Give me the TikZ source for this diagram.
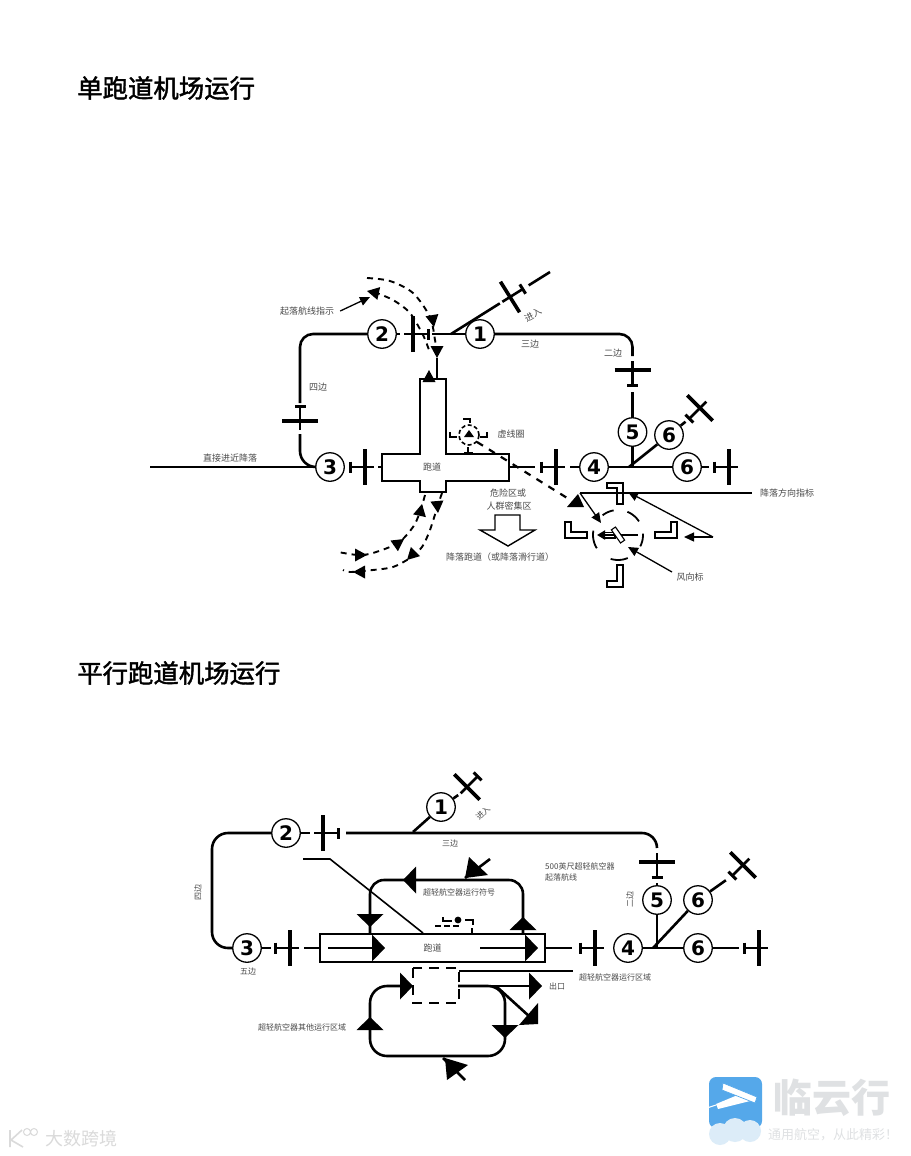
\documentclass[tikz,border=0pt]{standalone}
\usepackage{fontspec}
\usepackage{xcolor}
\setmainfont{Noto Sans CJK SC}
\newfontfamily\numfont{DejaVu Sans}
\newfontfamily\titlefont[FakeBold=1.6]{Noto Sans CJK SC}
\usetikzlibrary{arrows.meta,calc,positioning}
\definecolor{labeltext}{HTML}{4A4A4A}
\definecolor{logoblue}{HTML}{55A8EA}
\definecolor{logocloud}{HTML}{DCECF8}
\definecolor{logotext}{HTML}{DFE1E3}
\definecolor{marktext}{HTML}{DADADA}
\tikzset{
 numcirc/.style={circle,draw=black,fill=white,line width=1.3pt,minimum size=28.5pt,inner sep=0pt,
  font=\numfont\bfseries\fontsize{20}{20}\selectfont},
 route/.style={line width=2.6pt,line cap=butt},
 dashroute/.style={line width=1.9pt,dash pattern=on 6pt off 5pt},
 thinarrow/.style={line width=1.3pt,-{Triangle[length=10pt,width=9pt]}},
 txt/.style={font=\fontsize{9}{11}\selectfont,text=labeltext,inner sep=0pt},
 txts/.style={font=\fontsize{8}{10}\selectfont,text=labeltext,inner sep=0pt},
 titletxt/.style={font=\titlefont\fontsize{25.4}{28}\selectfont,anchor=west,inner sep=0pt},
 lmark/.style={draw=black,fill=white,line width=1.1pt},
 airplane/.pic={
  \coordinate (-nose) at (9,0);
  \coordinate (-tail) at (-15,0);
  \draw[line width=2.6pt] (-15,0)--(9,0);
  \draw[line width=3.6pt] (0,-18)--(0,18);
  \draw[line width=3pt] (-15,-5.5)--(-15,5.5);
 },
 bighead/.pic={\fill (0,0)--(-13,-13.5)--(-13,13.5)--cycle;},
 smallhead/.pic={\fill (0,0)--(-12,-6.5)--(-12,6.5)--cycle;},
}
\begin{document}
\begin{tikzpicture}[x=1pt,y=-1pt]
\useasboundingbox (0,0) rectangle (910,1156);
\fill[white] (0,0) rectangle (910,1156);

% ── Titles ──────────────────────────────────────────────────────
\node[titletxt] (titletop) at (77,88) {单跑道机场运行};
\node[titletxt] (titlebot) at (77,673) {平行跑道机场运行};

% ── (A) Single runway: numbered stops and planes ────────────────
\node[numcirc] (t1) at (480,334) {1};
\node[numcirc] (t2) at (382,334) {2};
\node[numcirc] (t3) at (330,467) {3};
\node[numcirc] (t4) at (594,467) {4};
\node[numcirc] (t5) at (632.5,432) {5};
\node[numcirc] (t6a) at (669,435) {6};
\node[numcirc] (t6b) at (687,467) {6};
\pic[rotate=212] (tpa) at (510,297) {airplane};
\pic[rotate=180] (tpb) at (413,334) {airplane};
\pic[rotate=-90] (tpc) at (300,421) {airplane};
\pic (tpd) at (365,467) {airplane};
\pic (tpe) at (556,467) {airplane};
\pic[rotate=90] (tpf) at (632.5,370) {airplane};
\pic[rotate=45] (tpg) at (700,408) {airplane};
\pic (tph) at (729,467) {airplane};
\coordinate (tjoin1) at (451,334);
\coordinate (tjoin2) at (629,467);
\coordinate (tjoin3) at (632.5,467);
\coordinate (tstart) at (150,467);
\coordinate (tfree) at (550,272);
\coordinate (trwW) at (382,467);
\coordinate (trwE) at (509,467);

% Runway cross
\draw[line width=1.4pt,fill=white] (382,454)--(420,454)--(420,379)--(446,379)--(446,454)--(509,454)
 --(509,481)--(446,481)--(446,492)--(420,492)--(420,481)--(382,481)--cycle;
\node[txt] (trwlabel) at (432,467) {跑道};

% Circuit legs
\draw[route] (tstart)--(t3);
\draw[route,rounded corners=13pt,shorten >=3pt] (t2) -| (tpc-tail);
\draw[route,rounded corners=16pt,shorten <=4pt] (tpc-nose) |- (t3);
\draw[route,shorten >=4pt] (t2)--(tpb-nose);
\draw[route,shorten <=4pt] (tpb-tail)--(t1);
\draw[route,rounded corners=13pt,shorten >=5pt] (t1) -| (tpf-nose);
\draw[route,shorten <=7pt] (tpf-tail)--(t5);
\draw[route,shorten >=3pt] (tjoin1)--(tpa-nose);
\draw[route,shorten <=7pt] (tpa-tail)--(tfree);
\draw[route,shorten <=4pt] (tpd-nose)--(trwW);
\draw[route,shorten >=6pt] (trwE)--(tpe-tail);
\draw[route,shorten <=5pt] (tpe-nose)--(t4);
\draw[route] (t4)--(t6b);
\draw[route] (t5)--(tjoin3);
\draw[route] (tjoin2)--(t6a);
\draw[route,shorten >=5pt] (t6a)--(tpg-tail);
\draw[route,shorten >=5pt] (t6b)--(tph-tail);

% Dashed pattern above the runway
\draw[dashroute] plot[smooth] coordinates {(367,278) (390,281) (413,293) (430,317) (435,340) (437,352)};
\draw[dashroute] plot[smooth] coordinates {(374,292) (393,300) (410,313) (423,335) (429,350)};
\draw[route] (437,358)--(437,379);
\pic[rotate=168] at (367,291) {smallhead};
\pic[rotate=-80] at (434,327) {smallhead};
\pic[rotate=-90] at (437,358) {smallhead};
\pic[rotate=90] at (429,370) {smallhead};
% Dashed pattern below the runway
\draw[dashroute] plot[smooth] coordinates {(425,495) (420,512) (413,527) (398,543) (373,553) (358,555) (338,552)};
\draw[dashroute] plot[smooth] coordinates {(442,493) (437,508) (430,530) (422,547) (410,558) (393,567) (373,570) (350,572) (343,570)};
\pic[rotate=78] at (422,504) {smallhead};
\pic[rotate=-85] at (438,513) {smallhead};
\pic[rotate=35] at (404,539) {smallhead};
\pic at (367,555) {smallhead};
\pic[rotate=-135] at (407,560) {smallhead};
\pic[rotate=180] at (353,572) {smallhead};

% Small dashed circle and its marks
\draw[line width=1.6pt,dash pattern=on 4pt off 2.5pt] (469,435) circle[radius=10];
\fill (469,430)--(464,437)--(474,437)--cycle;
\draw[line width=2pt] (463,419)--(470,419)--(470,423);
\draw[line width=2pt] (450,432)--(450,437)--(457,437);
\draw[line width=2pt] (487,432)--(487,437)--(480,437);
\draw[line width=2pt] (464,453)--(473,453) (468,447)--(468,454);

% Dashed approach to the wind circle
\draw[line width=2.2pt,dash pattern=on 7pt off 7pt] (477,442)--(572,501);
\fill (578,494)--(584,507)--(567,507)--cycle;

% Landing direction marks
\draw[lmark] (607,483)--(623,483)--(623,504)--(617,504)--(617,488)--(607,488)--cycle;
\draw[lmark] (565,522)--(571,522)--(571,532)--(587,532)--(587,538)--(565,538)--cycle;
\draw[lmark] (677,522)--(671,522)--(671,532)--(655,532)--(655,538)--(677,538)--cycle;
\draw[lmark] (617,565)--(623,565)--(623,587)--(607,587)--(607,581)--(617,581)--cycle;
\foreach \s/\e in {100/128,33/68,-27/3,-107/-67,170/212}
 \draw[line width=1.8pt] plot[smooth,domain=\s:\e,samples=9] ({618+25*cos(\x)},{535-25*sin(\x)});
\draw[lmark] (604,532.5) rectangle (615,538);
\draw[line width=1.8pt,-{Triangle[length=8pt,width=9pt]}] (638,535)--(597,535);
\node[draw=black,fill=white,line width=1.1pt,rotate=-55,minimum width=16pt,minimum height=5pt,inner sep=0pt] (twsock) at (618,535) {};

% Labels with pointers
\node[txt] (tlbdir) at (787,493) {降落方向指标};
\node[txt] (tlbwind) at (690,577) {风向标};
\node[txt] (tlbpat) at (307,311) {起落航线指示};
\coordinate (tc1) at (580,493);
\coordinate (tc2) at (713,537);
\draw[line width=1.3pt] ($(tlbdir.west)+(-8,0)$)--(tc1);
\draw[thinarrow] (tc1)--(601,523);
\draw[thinarrow] (tc2)--(628,492);
\draw[thinarrow] (tc2)--(684,537);
\draw[thinarrow] (672,572)--(628,547);
\draw[thinarrow] ($(tlbpat.east)+(6,0)$)--(370,297);

% Hazard area and hollow arrow
\node[txt] (thaz1) at (508,493) {危险区或};
\node[txt] (thaz2) at (509,506) {人群密集区};
\draw[line width=1.4pt] (495,515)--(520,515)--(520,530)--(535,530)--(508,546)--(480,530)--(495,530)--cycle;
\node[txt] (tland) at (500,557) {降落跑道（或降落滑行道）};
\node[txt] (tstr) at (230,458) {直接进近降落};
\node[txt] (tleg4) at (318,387) {四边};
\node[txt] (tleg3) at (530,344) {三边};
\node[txt] (tleg2) at (613,353) {二边};
\node[txt,rotate=30] (tenter) at (533,315) {进入};
\node[txt] (tdash) at (511,434) {虚线圈};

% ── (B) Parallel runways: numbered stops and planes ─────────────
\node[numcirc] (b1) at (441,807) {1};
\node[numcirc] (b2) at (286,833) {2};
\node[numcirc] (b3) at (247,948) {3};
\node[numcirc] (b4) at (628,948) {4};
\node[numcirc] (b5) at (657,900) {5};
\node[numcirc] (b6a) at (698,900) {6};
\node[numcirc] (b6b) at (698,948) {6};
\pic[rotate=225] (bpa) at (467,787) {airplane};
\pic[rotate=180] (bpb) at (323,833) {airplane};
\pic (bpc) at (290,948) {airplane};
\pic[rotate=90] (bpd) at (657,862) {airplane};
\pic[rotate=45] (bpe) at (743,865) {airplane};
\pic (bpf) at (595,948) {airplane};
\pic (bpg) at (759,948) {airplane};
\node[draw=black,fill=white,line width=1.2pt,minimum width=225pt,minimum height=28pt,inner sep=0pt,
 txt] (brw) at (432.5,948) {跑道};
\coordinate (bjoin1) at (413,832);
\coordinate (bjoin2) at (653,948);
\coordinate (bjoin3) at (657,948);
\coordinate (bleft) at (212,890);

% Circuit legs
\draw[route,rounded corners=16pt] (b2) -| (bleft) |- (b3);
\draw[route,shorten >=4pt] (b2)--(bpb-nose);
\draw[route,rounded corners=15pt,shorten <=8pt,shorten >=5pt] (bpb-tail) -| (bpd-nose);
\draw[route] (bjoin1)--(b1);
\draw[route,shorten >=3pt] (b1)--(bpa-nose);
\draw[route,shorten >=4pt] (b3)--(bpc-tail);
\draw[route,shorten <=5pt] (bpc-nose)--(brw.west);
\draw[route,shorten >=8pt] (brw.east)--(bpf-tail);
\draw[route,shorten >=6pt] (b5)--(bpd-tail);
\draw[route] (b4)--(b6b);
\draw[route] (b5)--(bjoin3);
\draw[route] (bjoin2)--(b6a);
\draw[route,shorten >=8pt] (b6a)--(bpe-tail);
\draw[route,shorten >=5pt] (b6b)--(bpg-tail);

% Runway arrows
\draw[route] (328,948)--(375,948);
\pic at (385,948) {bighead};
\draw[route] (480,948)--(528,948);
\pic at (538,948) {bighead};

% Upper ultralight circuit
\draw[route,rounded corners=14pt] (370,934)--(370,880)--(523,880)--(523,934);
\pic[rotate=180] at (403,880) {bighead};
\pic[rotate=-90] at (370,927) {bighead};
\pic[rotate=90] at (523,917) {bighead};
\coordinate (bsignfrom) at (490,859);
\coordinate (bsignto) at (465,878);
\draw[route] (bsignfrom)--(bsignto);
\fill (465,878)--(469,857)--(488,875)--cycle;
\coordinate (bline1) at (303,859);
\draw[line width=1.6pt] (bline1)--(330,859)--(423,933);

% Ultralight sign above the runway
\draw[line width=1.8pt] (443,917)--(443,921)--(452,921);
\fill (458,920) circle[radius=3.4];
\draw[line width=1.8pt] (465,920)--(473,920)--(473,925);
\draw[line width=1.8pt,dash pattern=on 6pt off 3pt] (435,926)--(460,926);
\draw[line width=1.8pt] (472,928)--(472,934);

% Lower ultralight area
\draw[line width=2.2pt,dash pattern=on 10pt off 7pt] (413,968) rectangle (459,1003);
\draw[line width=1.6pt] (459,971)--(573,971);
\draw[route] (458,986)--(530,986);
\pic at (542,986) {bighead};
\draw[route,rounded corners=17pt] (402,986)--(370,986)--(370,1056)--(505,1056)--(505,986)--(458,986);
\pic at (413,986) {bighead};
\pic[rotate=90] at (370,1017) {bighead};
\pic[rotate=-90] at (505,1038) {bighead};
\draw[route] (497,987)--(530,1017);
\fill (538,1024)--(538,1003)--(519,1025)--cycle;
\coordinate (bsignfrom2) at (465,1080);
\draw[route] (bsignfrom2)--(443,1058);
\fill (445,1058)--(447,1080)--(468,1065)--cycle;

% Labels
\node[txts] (bleg3) at (450,844) {三边};
\node[txts,rotate=90] (bleg4) at (198,892) {四边};
\node[txts] (bleg5) at (248,972) {五边};
\node[txts,rotate=90] (bleg2) at (630,899) {二边};
\node[txts,rotate=45] (benter) at (483,813) {进入};
\node[txts] (bsign) at (459,892) {超轻航空器运行符号};
\node[txts,anchor=west] (bpat1) at (545,866) {500英尺超轻航空器};
\node[txts,anchor=west] (bpat2) at (545,877) {起落航线};
\node[txts] (barea) at (615,977) {超轻航空器运行区域};
\node[txts] (bexit) at (557,986) {出口};
\node[txts] (bother) at (302,1027) {超轻航空器其他运行区域};

% ── (C) Watermarks ──────────────────────────────────────────────
\fill[logoblue,rounded corners=7pt] (709,1077) rectangle (762,1128);
\fill[logocloud] (720,1134) circle[radius=11] (735,1130) circle[radius=12] (750,1131) circle[radius=11];
\fill[white] (716,1104)--(745,1092)--(754,1100)--(718,1109)--cycle;
\draw[fill=white,draw=logoblue,line width=0.7pt] (723,1083)--(757,1097)--(755,1103)--(722,1090)--cycle;
\draw[white,line width=1pt] (707,1108)--(716,1105);
\node[font=\bfseries\fontsize{39}{40}\selectfont,text=logotext,anchor=west,inner sep=0pt] (logoname) at (773,1098) {临云行};
\node[font=\fontsize{13}{14}\selectfont,text=logotext,anchor=west,inner sep=0pt] (logosub) at (768,1135) {通用航空，从此精彩！};
\draw[marktext,line width=1.6pt] (10,1130)--(10,1147) (22,1130)--(11,1140)--(23,1147);
\draw[marktext,line width=1pt] (27,1132) circle[radius=3.5] (34,1132) circle[radius=3.5];
\node[font=\fontsize{18}{19}\selectfont,text=marktext,anchor=west,inner sep=0pt] (markname) at (45,1139) {大数跨境};
\end{tikzpicture}
\end{document}
